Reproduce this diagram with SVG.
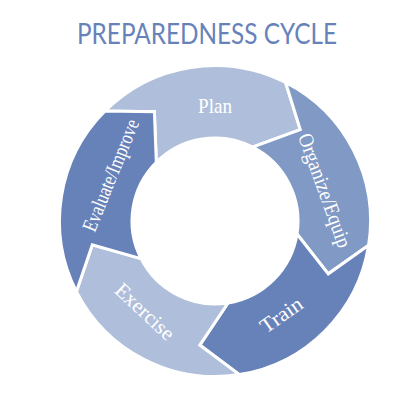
<svg xmlns="http://www.w3.org/2000/svg" width="413" height="413" viewBox="0 0 413 413">
  <style>
    .seg { stroke: #ffffff; stroke-width: 3; stroke-linejoin: miter; }
    .light { fill: #AFBFDB; }
    .mid { fill: #8099C5; }
    .dark { fill: #6782B9; }
    .lbl { font-family: "Liberation Serif", "DejaVu Serif", serif; font-size: 21px; fill: #ffffff; text-anchor: middle; }
    .title { font-family: "Lato", "Liberation Sans", sans-serif; font-weight: 400; font-size: 28.5px; fill: #6782B9; text-anchor: middle; }
  </style>
  <rect width="413" height="413" fill="#ffffff"/>
  <text class="title" x="207" y="44" textLength="260" lengthAdjust="spacingAndGlyphs">PREPAREDNESS CYCLE</text>
  <g id="connectors"></g>
  <g id="plan">
    <path class="seg light" d="M105.05,111.05 A155.5,155.5 0 0 1 285.6,82.45 L300.25,129.57 L252.68,147.05 A83,83 0 0 0 156.31,162.31 L154.4,111.67 Z"/>
    <text class="lbl" x="215" y="113" textLength="34" lengthAdjust="spacingAndGlyphs">Plan</text>
  </g>
  <g id="organize">
    <path class="seg mid" d="M285.6,82.45 A155.5,155.5 0 0 1 368.59,245.32 L328.29,273.83 L296.98,233.98 A83,83 0 0 0 252.68,147.05 L300.25,129.57 Z"/>
    <text class="lbl" transform="translate(323,191) rotate(70)" x="0" y="5" textLength="120" lengthAdjust="spacingAndGlyphs">Organize/Equip</text>
  </g>
  <g id="train">
    <path class="seg dark" d="M368.59,245.32 A155.5,155.5 0 0 1 239.32,374.59 L199.76,345.06 L227.98,302.98 A83,83 0 0 0 296.98,233.98 L328.29,273.83 Z"/>
    <text class="lbl" transform="translate(282.5,316.5) rotate(-35)" x="0" y="5" textLength="47" lengthAdjust="spacingAndGlyphs">Train</text>
  </g>
  <g id="exercise">
    <path class="seg light" d="M239.32,374.59 A155.5,155.5 0 0 1 76.45,291.6 L92.3,244.85 L141.05,258.68 A83,83 0 0 0 227.98,302.98 L199.76,345.06 Z"/>
    <text class="lbl" transform="translate(143.5,313) rotate(43)" x="0" y="5" textLength="73" lengthAdjust="spacingAndGlyphs">Exercise</text>
  </g>
  <g id="evaluate">
    <path class="seg dark" d="M76.45,291.6 A155.5,155.5 0 0 1 105.05,111.05 L154.4,111.67 L156.31,162.31 A83,83 0 0 0 141.05,258.68 L92.3,244.85 Z"/>
    <text class="lbl" transform="translate(112.5,176) rotate(-68)" x="0" y="5" textLength="119" lengthAdjust="spacingAndGlyphs">Evaluate/Improve</text>
  </g>
</svg>
